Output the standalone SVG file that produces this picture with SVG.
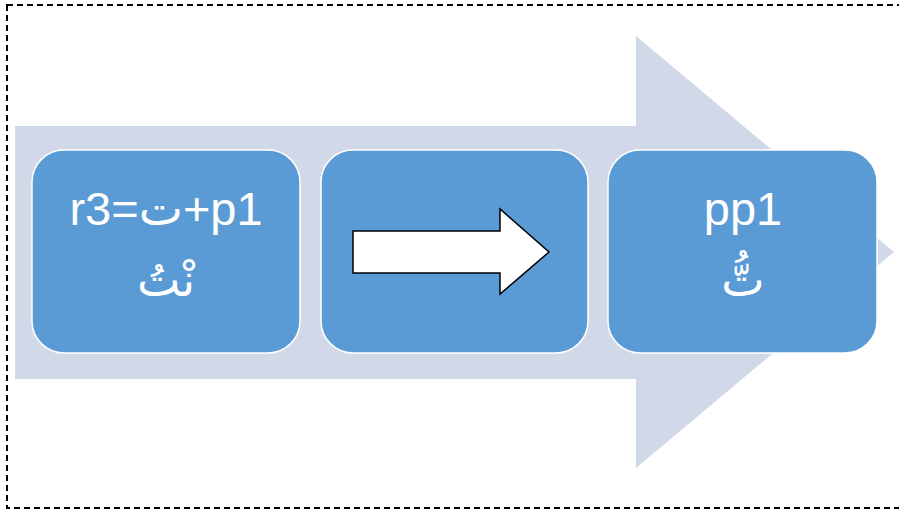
<svg xmlns="http://www.w3.org/2000/svg" width="899" height="510" viewBox="0 0 899 510">
<style>
.box{fill:#5B9BD5;stroke:#FFFFFF;stroke-width:1.5}
.t{fill:#FFFFFF;font-family:"Liberation Sans","DejaVu Sans",sans-serif;font-size:47px;text-anchor:middle}
.a{fill:#FFFFFF;font-family:"DejaVu Sans",sans-serif;font-size:46px;text-anchor:middle}
</style>
<rect width="899" height="510" fill="#FFFFFF"/>
<rect x="7" y="5" width="905" height="503" fill="none" stroke="#000000" stroke-width="2" stroke-dasharray="6 4"/>
<g id="background-arrow">
<polygon points="15,126 636,126 636,36 894,252 636,468 636,379 15,379" fill="#D1D9E8"/>
</g>
<g id="node1">
<rect class="box" x="32" y="150" width="268" height="203" rx="32" ry="32"/>
<text class="t" x="166" y="225">r3=ت+p1</text>
<text class="a" x="166" y="296">نْتُ</text>
</g>
<g id="node2">
<rect class="box" x="321" y="150" width="267" height="203" rx="32" ry="32"/>
</g>
<g id="node3">
<rect class="box" x="608" y="150" width="269" height="203" rx="32" ry="32"/>
<text class="t" x="743" y="225">pp1</text>
<text class="a" x="743" y="296">تُّ</text>
</g>
<g id="connectors">
<polygon points="353,231 500,231 500,209 549,252 500,294 500,273 353,273" fill="#FFFFFF" stroke="#000000" stroke-width="1.5"/>
</g>
</svg>
